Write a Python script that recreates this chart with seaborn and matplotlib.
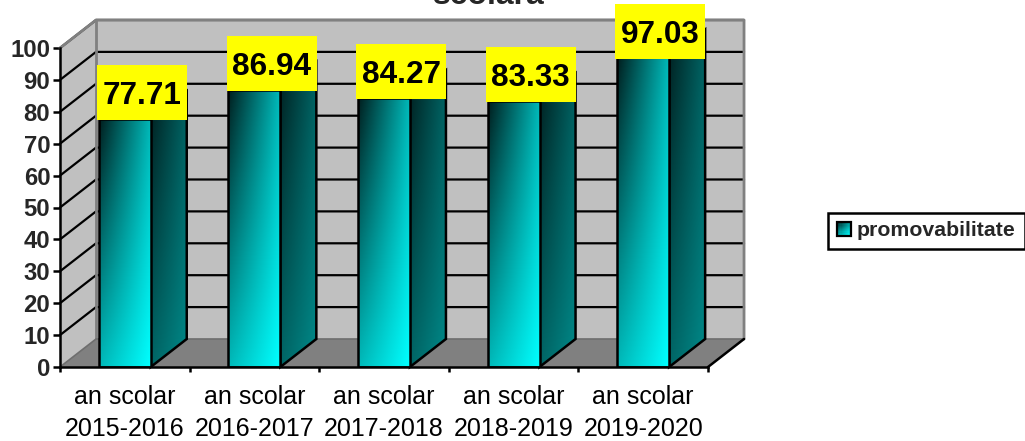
import numpy as np
import pandas as pd
import seaborn as sns
import matplotlib
matplotlib.use('Agg')
import matplotlib.pyplot as plt
from matplotlib.patches import Patch, Polygon, Rectangle
from matplotlib.legend_handler import HandlerBase

years = ['an scolar\n2015-2016', 'an scolar\n2016-2017', 'an scolar\n2017-2018',
         'an scolar\n2018-2019', 'an scolar\n2019-2020']
promovabilitate = [77.71, 86.94, 84.27, 83.33, 97.03]
y_ticks = [0, 10, 20, 30, 40, 50, 60, 70, 80, 90, 100]
title_text = 'scolara'
legend_label = 'promovabilitate'

# 3d depth, in data units of the front plane
DX = 0.278
DY = 8.78
BAR_W = 0.4


def shade(tl, tr, bl, br, n=60):
    # cyan-ish ramp, darker at the top and at the left
    u = np.linspace(0, 1, n)[None, :]
    v = np.linspace(0, 1, n)[:, None]
    k = (1-v)*((1-u)*tl + u*tr) + v*((1-u)*bl + u*br)
    img = np.zeros((n, n, 3))
    img[..., 1] = k
    img[..., 2] = k
    return img


class GradientSwatch(HandlerBase):
    def create_artists(self, legend, orig_handle, xdescent, ydescent, width, height, fontsize, trans):
        img = shade(0.15, 0.6, 0.7, 1.0, n=12)
        size = 10
        x0 = -xdescent
        y0 = (height - size) / 2 - ydescent
        step = size / 12
        out = []
        for i in range(12):
            for j in range(12):
                out.append(Rectangle((x0 + j*step, y0 + size - (i+1)*step), step, step,
                                     facecolor=img[i, j], edgecolor='none', transform=trans))
        out.append(Rectangle((x0, y0), size, size, facecolor='none', edgecolor='black',
                             linewidth=1.6, transform=trans))
        return out


sns.set_style('white')
plt.rcParams['font.family'] = ['Liberation Sans', 'DejaVu Sans']

df = pd.DataFrame({'an': years, 'promovabilitate': promovabilitate})

fig = plt.figure(figsize=(10.25, 4.41), dpi=100)
ax = fig.add_axes([60/1025, (441-367)/441, 648/1025, 319/441])
ax.patch.set_alpha(0)

sns.barplot(data=df, x='an', y='promovabilitate', color='cyan', width=BAR_W,
            edgecolor='black', linewidth=1.8, ax=ax)

left, right = -0.5, 4.5

# walls and floor
ax.add_patch(Polygon([(left+DX, DY), (right+DX, DY), (right+DX, 100+DY), (left+DX, 100+DY)],
                     facecolor='#c0c0c0', edgecolor='none', clip_on=False, zorder=0.5))
ax.add_patch(Polygon([(left, 0), (left+DX, DY), (left+DX, 100+DY), (left, 100)],
                     facecolor='#c0c0c0', edgecolor='none', clip_on=False, zorder=0.5))
ax.add_patch(Polygon([(left, 0), (right, 0), (right+DX, DY), (left+DX, DY)],
                     facecolor='#808080', edgecolor='none', clip_on=False, zorder=0.6))

for t in y_ticks[1:]:
    ax.plot([left, left+DX, right+DX], [t, t+DY, t+DY], color='black', lw=1.6,
            clip_on=False, zorder=1, solid_joinstyle='miter')

grey = '#808080'
ax.plot([left, left+DX, right+DX, right+DX], [100, 100+DY, 100+DY, DY], color=grey, lw=2,
        clip_on=False, zorder=1.2)
ax.plot([left+DX, left+DX], [DY, 100+DY], color=grey, lw=2, clip_on=False, zorder=1.2)
ax.plot([left, left+DX, right+DX], [0, DY, DY], color='#6e6e6e', lw=1.2, clip_on=False, zorder=1.2)
ax.plot([right, right+DX], [0, DY], color='black', lw=1.8, clip_on=False, zorder=1.3)

# bars: gradient on the front, side face behind it, yellow label on top
bars = list(ax.containers[0])
for bar, val in zip(bars, promovabilitate):
    x0 = bar.get_x()
    x1 = x0 + bar.get_width()
    side = Polygon([(x1, 0), (x1+DX, DY), (x1+DX, val+DY), (x1, val)], facecolor='none',
                   edgecolor='black', lw=1.8, clip_on=False, zorder=3)
    ax.add_patch(side)
    im = ax.imshow(shade(0.12, 0.38, 0.40, 0.54), extent=(x1, x1+DX, 0, val+DY), aspect='auto',
                   zorder=2.5, clip_on=True)
    im.set_clip_path(Polygon([(x1, 0), (x1+DX, DY), (x1+DX, val+DY), (x1, val)], transform=ax.transData))

    im = ax.imshow(shade(0.12, 0.72, 0.72, 1.0), extent=(x0, x1, 0, val), aspect='auto', zorder=3.5)
    bar.set_facecolor('none')
    bar.set_zorder(4)

    # the yellow box sits a hair lower and to the left, as in the original
    cx = (x0 + x1 + DX) / 2 - 0.007
    box_w = 90 / 129.6
    box_h = 55 / 3.19
    box_y = val - 0.4
    ax.add_patch(Rectangle((cx - box_w/2, box_y), box_w, box_h, facecolor='yellow', edgecolor='none',
                           clip_on=False, zorder=6))
    ax.text(cx, box_y + box_h/2, f'{val:.2f}', ha='center', va='center_baseline', fontsize=22.7,
            fontweight='bold', color='black', zorder=7, clip_on=False)

ax.set_xlim(left, right)
ax.set_ylim(0, 100)
ax.set_yticks(y_ticks)
ax.set_xticks([i - 0.5 for i in range(6)], [''] * 6)
ax.set_xticks(range(5), years, minor=True)
ax.tick_params(axis='x', which='major', length=3.6, width=1.8, color='black', bottom=True)
ax.tick_params(axis='x', which='minor', length=0, pad=13, labelsize=18, labelcolor='black')
ax.tick_params(axis='y', length=5, width=1.8, color='black', left=True, pad=2, labelsize=17.2)
for lab in ax.get_yticklabels():
    lab.set_fontweight('bold')
for lab in ax.get_xticklabels(minor=True):
    lab.set_linespacing(1.42)
ax.set_xlabel('')
ax.set_ylabel('')
for name, sp in ax.spines.items():
    sp.set_visible(name in ('left', 'bottom'))
    sp.set_color('black')
    sp.set_linewidth(1.8)
    sp.set_zorder(5)

fig.text(489/1025, 1 - 4/441, title_text, ha='center', va='baseline', fontsize=23, fontweight='bold')

leg = fig.legend(handles=[Patch(label=legend_label)], handler_map={Patch: GradientSwatch()},
                 loc='center left', bbox_to_anchor=(828/1025, 1 - 231/441),
                 frameon=True, fancybox=False, edgecolor='black', framealpha=1,
                 borderpad=0.42, handlelength=0.66, handletextpad=0.28, borderaxespad=0,
                 prop={'weight': 'bold', 'size': 15.3})
leg.get_frame().set_linewidth(1.8)

fig.savefig('out.png', dpi=100)
